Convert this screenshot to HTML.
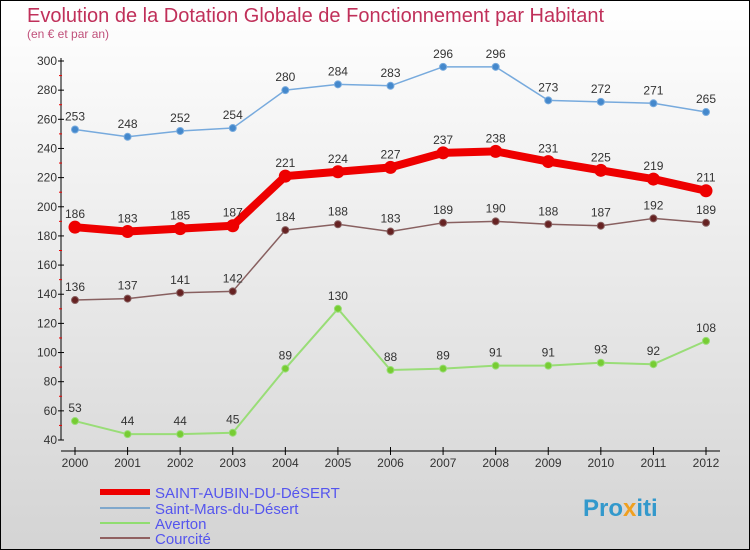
<!DOCTYPE html>
<html><head><meta charset="utf-8"><style>
body{margin:0}
svg{display:block;font-family:"Liberation Sans",sans-serif}
</style></head><body>
<svg width="750" height="550" viewBox="0 0 750 550">
<defs><linearGradient id="bg" x1="0" y1="0" x2="0" y2="1"><stop offset="0" stop-color="#ffffff"/><stop offset="1" stop-color="#d4d4d4"/></linearGradient></defs>
<rect x="0.5" y="0.5" width="749" height="549" fill="url(#bg)" stroke="#000"/>
<text x="27" y="22" font-size="20" fill="#c0305a">Evolution de la Dotation Globale de Fonctionnement par Habitant</text>
<text x="27" y="38" font-size="12" fill="#c0507a">(en € et par an)</text>
<g id="axes"></g>
<g id="series"></g>
<g id="legend">
<line x1="100" y1="492" x2="150" y2="492" stroke="#e00" stroke-width="6"/>
<text x="155" y="498" font-size="15" fill="#5555ee">SAINT-AUBIN-DU-DéSERT</text>
<line x1="100" y1="508" x2="150" y2="508" stroke="#80a8cc" stroke-width="2"/>
<text x="155" y="514" font-size="15" fill="#5555ee">Saint-Mars-du-Désert</text>
<line x1="100" y1="523" x2="150" y2="523" stroke="#90dd70" stroke-width="2"/>
<text x="155" y="529" font-size="15" fill="#5555ee">Averton</text>
<line x1="100" y1="538" x2="150" y2="538" stroke="#906060" stroke-width="2"/>
<text x="155" y="544" font-size="15" fill="#5555ee">Courcité</text>
</g>
<text x="583" y="516" font-size="24" font-weight="bold" fill="#3399cc">Pro<tspan fill="#f0a020">x</tspan>iti</text>
</svg>
<script>
const years=[2000,2001,2002,2003,2004,2005,2006,2007,2008,2009,2010,2011,2012];
const yTicks=[40,60,80,100,120,140,160,180,200,220,240,260,280,300];
const saintAubin=[186,183,185,187,221,224,227,237,238,231,225,219,211];
const saintMars=[253,248,252,254,280,284,283,296,296,273,272,271,265];
const averton=[53,44,44,45,89,130,88,89,91,91,93,92,108];
const courcite=[136,137,141,142,184,188,183,189,190,188,187,192,189];
const NS='http://www.w3.org/2000/svg';
const xs=i=>75+i*(706-75)/12;
const ys=v=>440-(v-40)*(440-61)/260;
function mk(t,a,p){const e=document.createElementNS(NS,t);for(const k in a)e.setAttribute(k,a[k]);p.appendChild(e);return e;}
const ax=document.getElementById('axes');
let yl=mk('line',{x1:61,y1:58,x2:61,y2:440,stroke:'#000'},ax);


let xl=mk('line',{x1:61,y1:451,x2:720,y2:451,stroke:'#000'},ax);


yTicks.forEach(v=>{
  mk('line',{x1:58,y1:ys(v),x2:64,y2:ys(v),stroke:'#000'},ax);
  if(v<300)mk('line',{x1:59,y1:ys(v+10),x2:62,y2:ys(v+10),stroke:'#e00'},ax);
  const t=mk('text',{x:57,y:ys(v)+4,'text-anchor':'end','font-size':12,fill:'#333'},ax);
  t.textContent=v;
  
  
});
years.forEach((y,i)=>{
  mk('line',{x1:xs(i),y1:447,x2:xs(i),y2:455,stroke:'#000'},ax);
  const t=mk('text',{x:xs(i),y:467,'text-anchor':'middle','font-size':12,fill:'#333'},ax);
  t.textContent=y;
  
  
});
const sg=document.getElementById('series');
function series(data,color,w,r,name,dot){
  const g=mk('g',{},sg);
  
  
  mk('polyline',{points:data.map((v,i)=>xs(i)+','+ys(v)).join(' '),fill:'none',stroke:color,'stroke-width':w,'stroke-linejoin':'round'},g);
  data.forEach((v,i)=>{
    const c=mk('circle',{cx:xs(i),cy:ys(v),r:r,fill:dot,stroke:color,'stroke-width':1},g);
    
    
    const t=mk('text',{x:xs(i),y:ys(v)-9,'text-anchor':'middle','font-size':12,fill:'#333'},g);
    t.textContent=v;
    
    
  });
}
series(averton,'#99dd77',2,3.5,'series-averton','#77cc33');
series(courcite,'#886060',1.5,3.5,'series-courcite','#662222');
series(saintMars,'#77aadd',1.5,3.5,'series-saint-mars','#4488cc');
series(saintAubin,'#ee0000',8,6,'series-saint-aubin','#ee0000');
</script>
</body></html>
